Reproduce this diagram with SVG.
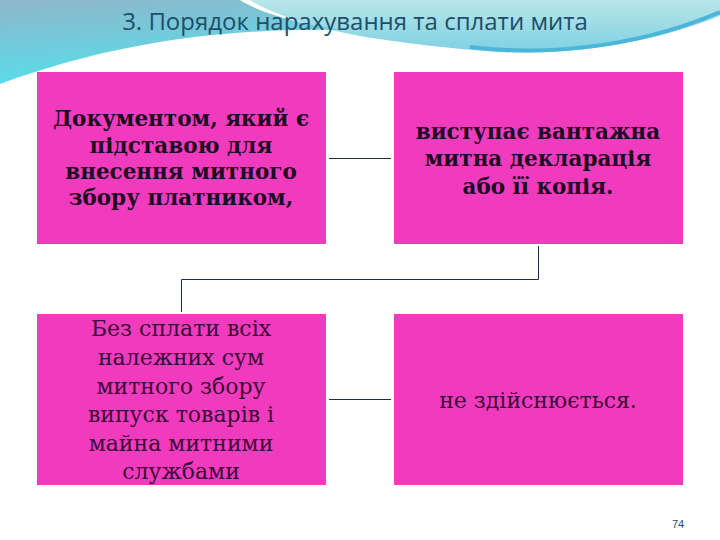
<svg xmlns="http://www.w3.org/2000/svg" width="720" height="540" viewBox="0 0 720 540">
  <defs>
    <linearGradient id="gLeft" x1="0" y1="0" x2="0.3" y2="1">
      <stop offset="0" stop-color="#8fb6ca"/>
      <stop offset="1" stop-color="#55dfec"/>
    </linearGradient>
    <linearGradient id="gRight" x1="0" y1="0" x2="0" y2="1">
      <stop offset="0" stop-color="#b9e6ea"/>
      <stop offset="1" stop-color="#7dd0e2"/>
    </linearGradient>
    <style>
      .box { fill: #f13bbf; }
      .bold { font-family: "DejaVu Serif", "Liberation Serif", serif; font-weight: bold; font-size: 21.5px; fill: #1e0a22; text-anchor: middle; }
      .reg { font-family: "DejaVu Serif", "Liberation Serif", serif; font-size: 22px; fill: #3a0a34; text-anchor: middle; }
      .conn { fill: none; stroke: #16324a; stroke-width: 1; }
    </style>
  </defs>
  <rect width="720" height="540" fill="#ffffff"/>
  <!-- background wave -->
  <path d="M232,0 H720 V16 C660,40 580,56 500,52 C440,48 400,42 372,38 C320,30 270,14 250,0 Z" fill="url(#gRight)"/>
  <path d="M0,0 H240 C262,14 300,24 345,30 C250,28 130,36 0,84 Z" fill="url(#gLeft)"/>
  <path d="M470,47 C560,58 650,42 720,12" fill="none" stroke="#4cb6da" stroke-width="4"/>
  <text x="355" y="30" font-family="Open Sans, Liberation Sans, sans-serif" font-size="24" fill="#1f4e66" text-anchor="middle">3. Порядок нарахування та сплати мита</text>

  <g id="connectors">
    <line class="conn" x1="329" y1="158.5" x2="391" y2="158.5"/>
    <path class="conn" d="M538.5,246 V279.5 H181.5 V312"/>
    <line class="conn" x1="329" y1="399.5" x2="391" y2="399.5"/>
  </g>

  <g id="node1">
    <rect class="box" x="37" y="72" width="289" height="172"/>
    <text class="bold" x="181" y="126">Документом, який є</text>
    <text class="bold" x="181" y="153">підставою для</text>
    <text class="bold" x="181" y="179">внесення митного</text>
    <text class="bold" x="181" y="205">збору платником,</text>
  </g>
  <g id="node2">
    <rect class="box" x="394" y="72" width="289" height="172"/>
    <text class="bold" x="538" y="139">виступає вантажна</text>
    <text class="bold" x="538" y="166">митна декларація</text>
    <text class="bold" x="538" y="194">або її копія.</text>
  </g>
  <g id="node3">
    <rect class="box" x="37" y="314" width="289" height="171"/>
    <text class="reg" x="181" y="336">Без сплати всіх</text>
    <text class="reg" x="181" y="365">належних сум</text>
    <text class="reg" x="181" y="394">митного збору</text>
    <text class="reg" x="181" y="422">випуск товарів і</text>
    <text class="reg" x="181" y="451">майна митними</text>
    <text class="reg" x="181" y="479">службами</text>
  </g>
  <g id="node4">
    <rect class="box" x="394" y="314" width="289" height="171"/>
    <text class="reg" x="538" y="408">не здійснюється.</text>
  </g>
  <text x="678" y="528" font-family="Liberation Sans, sans-serif" font-size="11" fill="#1f4e66" text-anchor="middle">74</text>
</svg>
